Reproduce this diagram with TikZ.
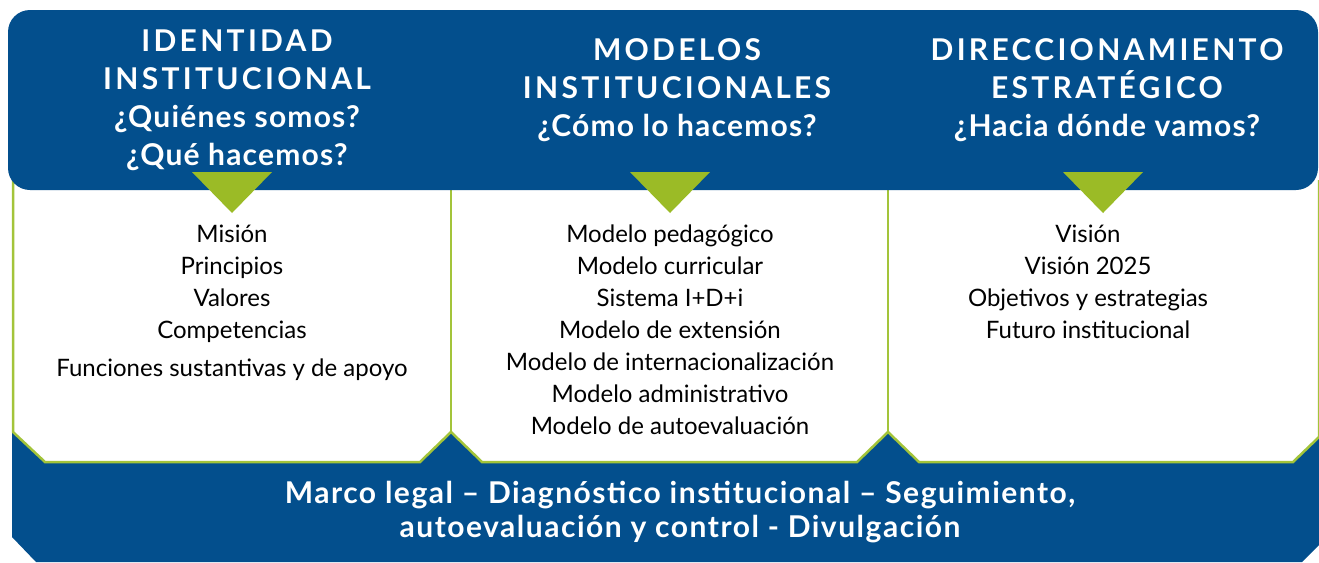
\documentclass[tikz,border=0pt]{standalone}
\usepackage{fontspec}
\setmainfont{Lato}
\usepackage{tikz}
\definecolor{bandblue}{HTML}{034F8D}
\definecolor{leafgreen}{HTML}{9BBB26}
\definecolor{rulegreen}{HTML}{A3C43A}
\newcommand{\wideline}[2]{{\addfontfeatures{LetterSpace=#1}#2}}
\tikzset{
  heading/.style={text=white, font=\bfseries\fontsize{30}{38}\selectfont, align=center, inner sep=0pt},
  itemlist/.style={text=black, font=\fontsize{24}{32}\selectfont, align=center, inner sep=0pt, anchor=north},
  pointer/.style={fill=leafgreen},
}

\begin{document}
\begin{tikzpicture}[x=1pt,y=-1pt]
    \useasboundingbox (0,0) rectangle (1319,562);
    % base band
    \fill[bandblue] (12,432) -- (45,462) -- (420,462) -- (451,432) -- (482,462) -- (857,462)
        -- (888,432) -- (919,462) -- (1293,462) -- (1319,437) -- (1319,545) -- (1302,562)
        -- (36,562) -- (12,537) -- cycle;
    % white panels
    \filldraw[fill=white, draw=rulegreen, line width=2.5pt] (13,180) -- (13,432) -- (45,462) -- (420,462)
        -- (451,432) -- (482,462) -- (857,462) -- (888,432) -- (919,462) -- (1293,462) -- (1319,437)
        -- (1319,180);
    \draw[rulegreen, line width=2.5pt] (451,180) -- (451,432);
    \draw[rulegreen, line width=2.5pt] (888,180) -- (888,432);
    % top band
    \fill[bandblue, rounded corners=22pt] (8,10) rectangle (1318,190);
    \foreach \cx in {232,670,1103}
        \fill[pointer] (\cx-40,172) -- (\cx+40,172) -- (\cx,213) -- cycle;

    \node[heading] (ident) at (237,100) {\wideline{11}{IDENTIDAD}\\\wideline{11}{INSTITUCIONAL}\\\wideline{4}{¿Quiénes somos?}\\\wideline{4}{¿Qué hacemos?}};
    \node[heading] (model) at (677,90) {\wideline{11}{MODELOS}\\\wideline{11}{INSTITUCIONALES}\\\wideline{4}{¿Cómo lo hacemos?}};
    \node[heading] (direc) at (1107,90) {\wideline{11}{DIRECCIONAMIENTO}\\\wideline{11}{ESTRATÉGICO}\\\wideline{4}{¿Hacia dónde vamos?}};

    \node[itemlist] (identitems) at (232,225) {Misión\\Principios\\Valores\\Competencias\\[6pt]Funciones sustantivas y de apoyo};
    \node[itemlist] (modelitems) at (670,225) {Modelo pedagógico\\Modelo curricular\\Sistema I+D+i\\Modelo de extensión\\Modelo de internacionalización\\Modelo administrativo\\Modelo de autoevaluación};
    \node[itemlist] (direcitems) at (1088,225) {Visión\\Visión 2025\\Objetivos y estrategias\\Futuro institucional};

    \node[heading, font=\bfseries\fontsize{30}{34.5}\selectfont] (marco) at (680,512) {\wideline{5}{Marco legal – Diagnóstico institucional – Seguimiento,}\\\wideline{5}{autoevaluación y control - Divulgación}};
\end{tikzpicture}
\end{document}
